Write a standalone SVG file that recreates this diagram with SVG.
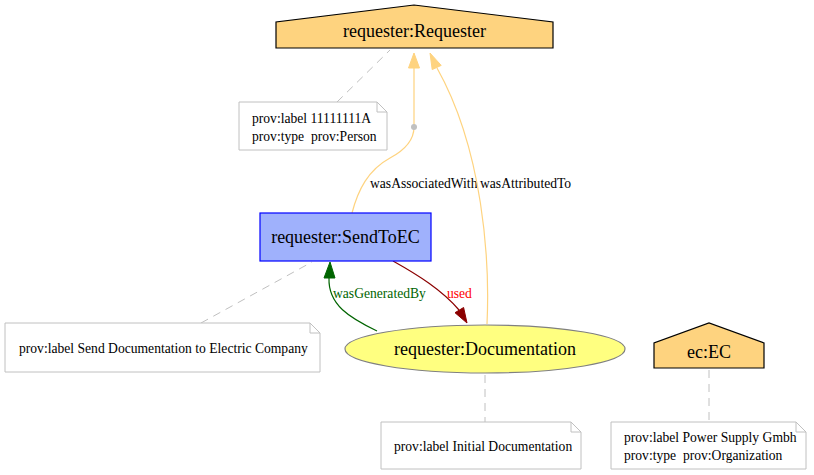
<svg xmlns="http://www.w3.org/2000/svg" width="814" height="475" viewBox="0 0 814 475">
<style>
text{font-family:"Liberation Serif","Times New Roman",serif;fill:#000;white-space:pre}
.node{font-size:18px;text-anchor:middle}
.note{fill:#fff;stroke:#c0c0c0;stroke-width:1}
.nt{font-size:13.6px}
.el{font-size:13.6px}
.dash{fill:none;stroke:#c0c0c0;stroke-dasharray:8,6}
.ag{fill:none;stroke:#fed37f;stroke-width:1.2}
.agh{fill:#fed37f;stroke:#fed37f}
</style>
<rect width="814" height="475" fill="#fff"/>
<g id="connectors">
<path class="dash" d="M337,102 L390,50"/>
<path class="dash" d="M201,323 L312,262"/>
<path class="dash" d="M485,375 L485,422"/>
<path class="dash" d="M709,370 L709,422"/>
<path class="ag" d="M352,213 C358,190 368,170 390,158 C405,150 414,140 414,127 L414,68"/>
<polygon class="agh" points="408.5,68 414,53 419.5,68"/>
<circle cx="414" cy="127" r="3" fill="#c0c0c0"/>
<text class="el" x="370" y="188">wasAssociatedWith</text>
<path class="ag" d="M487,324 C490,260 483,150 437,68"/>
<polygon class="agh" points="430,53 441.2,65.4 432.2,69.6"/>
<text class="el" x="480" y="188">wasAttributedTo</text>
<path fill="none" stroke="#8b0000" stroke-width="1.2" d="M393,261 C418,275 442,290 459,310"/>
<polygon fill="#8b0000" stroke="#8b0000" points="467,323 463.6,307.5 455,312.7"/>
<text class="el" x="447" y="298" style="fill:#ff0000">used</text>
<path fill="none" stroke="#006400" stroke-width="1.2" d="M377,331 C350,318 328,305 329,278"/>
<polygon fill="#006400" stroke="#006400" points="330,262 324,278 335,278"/>
<text class="el" x="333" y="298" style="fill:#006400">wasGeneratedBy</text>
</g>
<g id="requester">
<polygon points="276,48 276,22 414,5 553,22 553,48" fill="#fed37f" stroke="#000" stroke-width="1.2"/>
<text class="node" x="414.5" y="37">requester:Requester</text>
</g>
<g id="note1">
<path class="note" d="M239,102 L377,102 L387,112 L387,150 L239,150 Z M377,102 L377,112 L387,112"/>
<text class="nt" x="252" y="123">prov:label 11111111A</text>
<text class="nt" x="252" y="141">prov:type  prov:Person</text>
</g>
<g id="sendtoec">
<rect x="260" y="213" width="171" height="48" fill="#9fb1fc" stroke="#0000ff" stroke-width="1.2"/>
<text class="node" x="345.5" y="243">requester:SendToEC</text>
</g>
<g id="note2">
<path class="note" d="M5,323 L310,323 L320,333 L320,372 L5,372 Z M310,323 L310,333 L320,333"/>
<text class="nt" x="19" y="353">prov:label Send Documentation to Electric Company</text>
</g>
<g id="documentation">
<ellipse cx="485" cy="349" rx="140" ry="24" fill="#ffff80" stroke="#808080" stroke-width="1.2"/>
<text class="node" x="485" y="355">requester:Documentation</text>
</g>
<g id="ec">
<polygon points="654,368 654,343 709,323 764,343 764,368" fill="#fed37f" stroke="#000" stroke-width="1.2"/>
<text class="node" x="709" y="358">ec:EC</text>
</g>
<g id="note3">
<path class="note" d="M381,422 L571,422 L581,432 L581,469 L381,469 Z M571,422 L571,432 L581,432"/>
<text class="nt" x="394" y="451">prov:label Initial Documentation</text>
</g>
<g id="note4">
<path class="note" d="M611,422 L796,422 L806,432 L806,469 L611,469 Z M796,422 L796,432 L806,432"/>
<text class="nt" x="624" y="442">prov:label Power Supply Gmbh</text>
<text class="nt" x="624" y="460">prov:type  prov:Organization</text>
</g>
</svg>
